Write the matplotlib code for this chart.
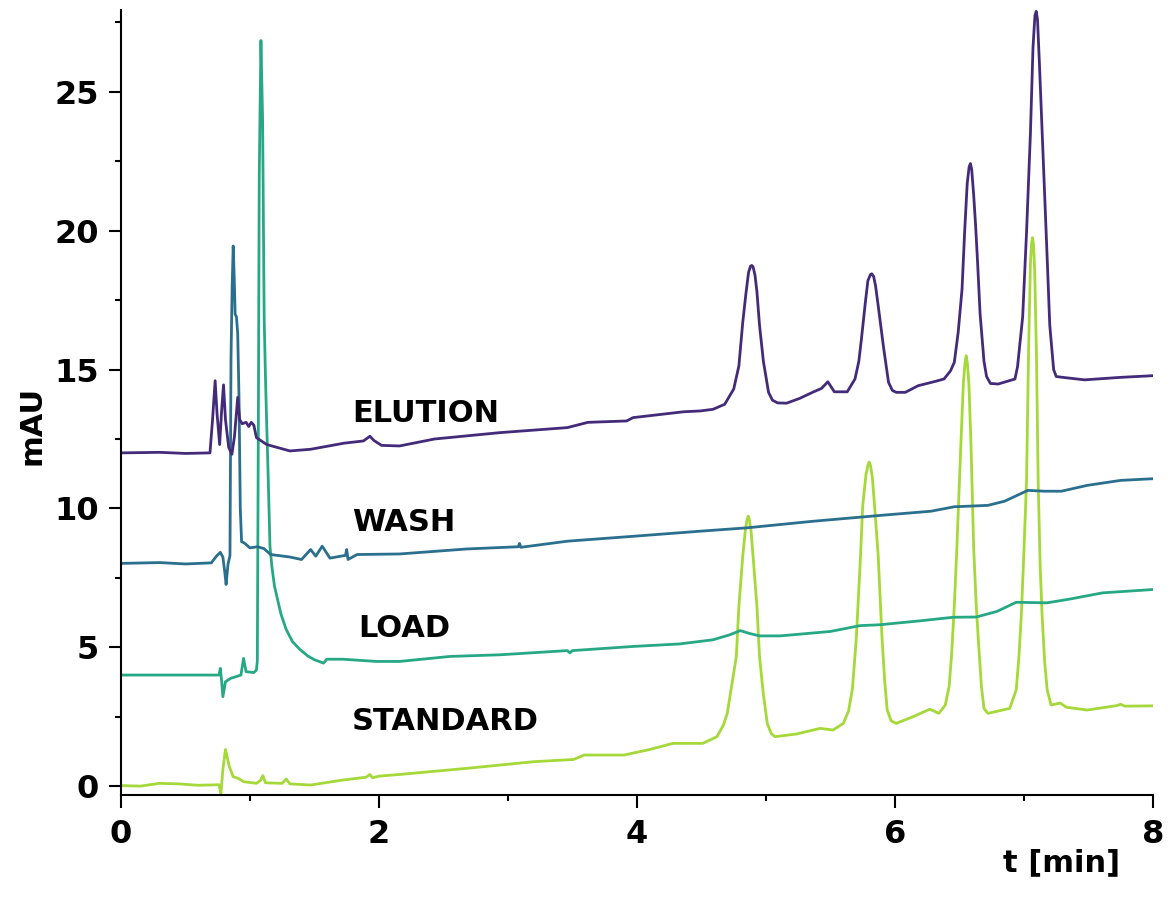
import matplotlib.pyplot as plt
from matplotlib.ticker import MultipleLocator

# retention time [min] and absorbance [mAU]
elution_t = [0.0, 0.3, 0.5, 0.69, 0.71, 0.73, 0.745, 0.765, 0.78, 0.795, 0.81, 0.835, 0.86, 0.88,
             0.905, 0.92, 0.94, 0.97, 0.99, 1.01, 1.03, 1.05, 1.13, 1.31, 1.47, 1.73, 1.88, 1.93,
             1.96, 2.02, 2.16, 2.43, 2.94, 3.46, 3.62, 3.92, 3.97, 4.36, 4.49, 4.59, 4.68, 4.75,
             4.79, 4.82, 4.845, 4.865, 4.88, 4.89, 4.90, 4.915, 4.93, 4.95, 4.98, 5.02, 5.05, 5.09,
             5.16, 5.26, 5.37, 5.43, 5.48, 5.53, 5.63, 5.69, 5.72, 5.74, 5.77, 5.79, 5.81, 5.82,
             5.835, 5.85, 5.87, 5.91, 5.95, 5.98, 6.01, 6.08, 6.18, 6.30, 6.38, 6.43, 6.46, 6.49,
             6.52, 6.54, 6.56, 6.575, 6.585, 6.595, 6.61, 6.625, 6.64, 6.66, 6.69, 6.71, 6.74, 6.80,
             6.93, 6.95, 6.99, 7.02, 7.05, 7.07, 7.085, 7.095, 7.105, 7.12, 7.15, 7.18, 7.20, 7.23,
             7.25, 7.30, 7.47, 7.75, 8.0]
elution_v = [12.0, 12.02, 11.98, 12.0, 13.2, 14.6, 13.4, 12.3, 13.5, 14.45, 13.2, 12.2, 11.95, 12.6,
             14.0, 13.2, 13.05, 13.1, 12.95, 13.1, 13.0, 12.55, 12.3, 12.07, 12.13, 12.35, 12.43, 12.6,
             12.45, 12.27, 12.25, 12.5, 12.73, 12.91, 13.1, 13.15, 13.27, 13.48, 13.51, 13.57, 13.75, 14.3,
             15.13, 16.7, 17.75, 18.5, 18.72, 18.75, 18.7, 18.4, 17.8, 16.6, 15.3, 14.18, 13.9, 13.8,
             13.79, 13.96, 14.2, 14.32, 14.56, 14.2, 14.2, 14.66, 15.3, 16.1, 17.4, 18.2, 18.42, 18.45,
             18.35, 18.0, 17.3, 15.85, 14.54, 14.25, 14.18, 14.18, 14.42, 14.56, 14.66, 14.95, 15.26, 16.34,
             17.9, 19.95, 21.7, 22.3, 22.42, 22.2, 21.3, 20.2, 18.9, 17.0, 15.3, 14.75, 14.5, 14.48,
             14.66, 15.1, 16.9, 19.95, 23.5, 26.6, 27.75, 27.9, 27.6, 26.0, 22.5, 19.0, 16.6, 15.0,
             14.75, 14.72, 14.63, 14.72, 14.78]

wash_t = [0.0, 0.3, 0.5, 0.70, 0.74, 0.77, 0.79, 0.805, 0.815, 0.83, 0.845, 0.853, 0.862, 0.87,
          0.878, 0.885, 0.895, 0.905, 0.915, 0.925, 0.935, 0.955, 1.0, 1.06, 1.11, 1.16, 1.31, 1.40,
          1.47, 1.51, 1.56, 1.62, 1.74, 1.75, 1.76, 1.83, 2.16, 2.68, 3.08, 3.09, 3.10, 3.46, 3.98,
          4.49, 4.85, 5.37, 5.89, 6.28, 6.46, 6.72, 6.85, 7.03, 7.16, 7.29, 7.49, 7.75, 8.0]
wash_v = [8.02, 8.05, 8.0, 8.04, 8.28, 8.42, 8.25, 7.7, 7.26, 8.0, 8.3, 15.4, 18.0, 19.45,
          18.3, 17.0, 16.9, 16.3, 14.0, 10.0, 8.8, 8.76, 8.58, 8.62, 8.55, 8.34, 8.25, 8.16,
          8.52, 8.28, 8.64, 8.21, 8.31, 8.52, 8.16, 8.34, 8.36, 8.54, 8.62, 8.74, 8.6, 8.82, 9.0,
          9.18, 9.30, 9.54, 9.75, 9.9, 10.06, 10.11, 10.26, 10.65, 10.62, 10.62, 10.83, 11.01, 11.07]

load_t = [0.0, 0.5, 0.76, 0.77, 0.78, 0.79, 0.81, 0.85, 0.93, 0.95, 0.97, 1.03, 1.05, 1.057,
          1.065, 1.072, 1.085, 1.098, 1.11, 1.12, 1.13, 1.142, 1.155, 1.17, 1.19, 1.21, 1.24,
          1.28, 1.33, 1.39, 1.45, 1.50, 1.57, 1.595, 1.72, 1.98, 2.16, 2.55, 2.94, 3.46, 3.48,
          3.50, 3.97, 4.33, 4.59, 4.72, 4.80, 4.87, 4.95, 5.11, 5.50, 5.73, 5.88, 6.19, 6.45,
          6.63, 6.79, 6.94, 7.18, 7.36, 7.61, 8.0]
load_v = [4.0, 4.0, 4.0, 4.24, 3.8, 3.22, 3.76, 3.88, 4.0, 4.6, 4.12, 4.09, 4.18, 4.5,
          13.0, 22.0, 26.85, 24.0, 16.9, 14.75, 13.0, 11.0, 8.64, 7.9, 7.2, 6.8, 6.2,
          5.65, 5.2, 4.91, 4.68, 4.55, 4.43, 4.57, 4.57, 4.49, 4.49, 4.67, 4.73, 4.88, 4.8,
          4.88, 5.03, 5.12, 5.27, 5.45, 5.6, 5.5, 5.41, 5.41, 5.57, 5.78, 5.81, 5.95, 6.08,
          6.09, 6.29, 6.62, 6.6, 6.74, 6.96, 7.08]

standard_t = [0.0, 0.15, 0.3, 0.45, 0.6, 0.76, 0.775, 0.79, 0.81, 0.84, 0.87, 0.91, 0.95, 1.05,
              1.08, 1.10, 1.12, 1.25, 1.28, 1.31, 1.47, 1.72, 1.90, 1.93, 1.95, 2.0, 2.16, 2.68,
              3.2, 3.51, 3.59, 3.9, 4.1, 4.28, 4.51, 4.62, 4.67, 4.70, 4.73, 4.77, 4.79, 4.82,
              4.84, 4.853, 4.862, 4.871, 4.884, 4.90, 4.93, 4.95, 4.98, 5.01, 5.04, 5.07, 5.24, 5.42,
              5.52, 5.60, 5.64, 5.67, 5.70, 5.73, 5.75, 5.775, 5.79, 5.80, 5.81, 5.825, 5.845, 5.87,
              5.90, 5.92, 5.94, 5.97, 6.01, 6.14, 6.27, 6.34, 6.39, 6.42, 6.44, 6.46, 6.48, 6.51,
              6.53, 6.543, 6.552, 6.561, 6.574, 6.59, 6.61, 6.63, 6.65, 6.67, 6.69, 6.72, 6.89, 6.94,
              6.96, 6.98, 7.0, 7.02, 7.035, 7.05, 7.058, 7.066, 7.074, 7.083, 7.097, 7.11, 7.125, 7.14,
              7.16, 7.18, 7.21, 7.28, 7.33, 7.49, 7.72, 7.75, 7.78, 8.0]
standard_v = [0.02, 0.0, 0.1, 0.08, 0.03, 0.05, -0.26, 0.6, 1.32, 0.7, 0.34, 0.28, 0.16, 0.1,
              0.2, 0.38, 0.12, 0.1, 0.26, 0.08, 0.04, 0.22, 0.32, 0.42, 0.3, 0.36, 0.42, 0.64,
              0.88, 0.96, 1.12, 1.12, 1.32, 1.54, 1.54, 1.78, 2.2, 2.62, 3.5, 4.66, 6.47, 8.28,
              9.2, 9.6, 9.72, 9.6, 9.2, 8.28, 6.47, 4.66, 3.3, 2.26, 1.9, 1.78, 1.88, 2.08,
              2.02, 2.26, 2.7, 3.5, 5.3, 8.0, 10.1, 11.2, 11.55, 11.67, 11.55, 11.1, 9.9, 8.3,
              5.3, 3.8, 2.74, 2.35, 2.26, 2.5, 2.77, 2.62, 2.92, 3.6, 4.8, 6.5, 8.6, 12.2,
              14.5, 15.25, 15.5, 15.25, 14.4, 12.2, 8.6, 6.5, 5.0, 3.6, 2.8, 2.62, 2.8, 3.47,
              4.6, 6.2, 8.5, 11.0, 15.5, 18.8, 19.5, 19.75, 19.5, 18.6, 15.5, 11.0, 8.0, 6.2,
              4.5, 3.47, 2.92, 2.99, 2.84, 2.74, 2.9, 2.95, 2.88, 2.89]

trace_names = ["STANDARD", "LOAD", "WASH", "ELUTION"]
trace_colors = ["#a5d839", "#27a884", "#2b6f8e", "#432b7a"]
label_pos = [(1.79, 2.31), (1.84, 5.69), (1.79, 9.51), (1.79, 13.43)]

bold = {"family": "DejaVu Sans", "weight": "bold"}

fig = plt.figure(figsize=(11.71, 8.97), dpi=100)
ax = fig.add_axes([0.1033, 0.1137, 0.8813, 0.8752])

series = [(standard_t, standard_v), (load_t, load_v), (wash_t, wash_v), (elution_t, elution_v)]
for (t, v), name, colour, (lx, ly) in zip(series, trace_names, trace_colors, label_pos):
    ax.plot(t, v, color=colour, lw=2.0, solid_joinstyle="round")
    ax.text(lx, ly, name, ha="left", va="center", fontsize=22, fontdict=bold)

ax.set_xlim(0, 8)
ax.set_ylim(-0.32, 27.95)
ax.xaxis.set_major_locator(MultipleLocator(2))
ax.xaxis.set_minor_locator(MultipleLocator(1))
ax.yaxis.set_major_locator(MultipleLocator(5))
ax.yaxis.set_minor_locator(MultipleLocator(2.5))

for side in ["top", "right"]:
    ax.spines[side].set_visible(False)
for side in ["left", "bottom"]:
    ax.spines[side].set_linewidth(1.5)

ax.tick_params(which="major", direction="out", length=9, width=1.5, labelsize=23)
ax.tick_params(which="minor", direction="out", length=4.5, width=1.5)
ax.tick_params(axis="x", pad=8)
ax.tick_params(axis="y", pad=7)
for lab in ax.get_xticklabels() + ax.get_yticklabels():
    lab.set_fontweight("bold")

fig.text(32 / 1171, 1 - 425 / 897, "mAU", rotation=90, ha="center", va="center", fontsize=22, fontdict=bold)
fig.text(1062 / 1171, 1 - 863 / 897, "t [min]", ha="center", va="center", fontsize=22, fontdict=bold)

fig.savefig("out.png", dpi=100)
